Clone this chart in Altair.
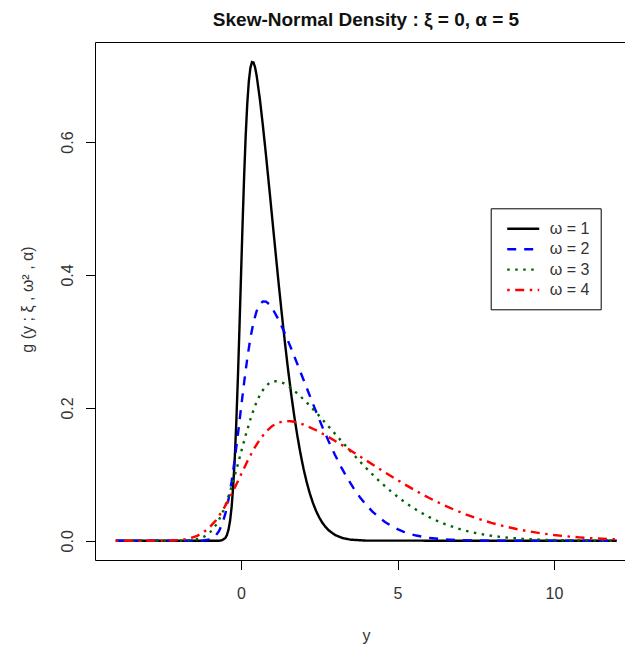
import altair as alt
import pandas as pd

# ---- data (skew-normal densities, xi = 0, alpha = 5) ----
labels = ["ω = 1", "ω = 2", "ω = 3", "ω = 4"]

x_w1 = [-4, -1, -0.8, -0.7, -0.6, -0.5, -0.45, -0.4, -0.35, -0.3, -0.25, -0.2, -0.15, -0.1, -0.05,
        0, 0.05, 0.1, 0.15, 0.2, 0.25, 0.3, 0.35, 0.4, 0.45, 0.5, 0.6, 0.7, 0.8, 0.9, 1.0,
        1.1, 1.2, 1.3, 1.4, 1.5, 1.6, 1.7, 1.8, 1.9, 2.0, 2.1, 2.2, 2.3, 2.4, 2.5, 2.6, 2.7,
        2.8, 3.0, 3.25, 3.5, 4.0, 12]
g_w1 = [0.0, 0.0, 0.00002, 0.00015, 0.0009, 0.00437, 0.00881, 0.01676, 0.03006, 0.05096, 0.08170,
        0.12408, 0.17880, 0.24495, 0.31978, 0.39894, 0.47710, 0.54895, 0.61016, 0.65800, 0.69164,
        0.71182, 0.72042, 0.71978, 0.71225, 0.69977, 0.66554, 0.62436, 0.57936, 0.53218, 0.48394,
        0.43570, 0.38838, 0.34274, 0.29946, 0.25904, 0.22184, 0.18810, 0.15790, 0.13124, 0.10798,
        0.08796, 0.07094, 0.05666, 0.04478, 0.03506, 0.02716, 0.02084, 0.01584, 0.00886, 0.00406,
        0.00175, 0.00027, 0.0]

x_w2 = [-4, -2, -1.6, -1.4, -1.2, -1.0, -0.9, -0.8, -0.7, -0.6, -0.5, -0.4, -0.3, -0.2, -0.1,
        0, 0.1, 0.2, 0.3, 0.4, 0.5, 0.6, 0.7, 0.8, 0.9, 1.0, 1.2, 1.4, 1.6, 1.8, 2.0,
        2.2, 2.4, 2.6, 2.8, 3.0, 3.2, 3.4, 3.6, 3.8, 4.0, 4.2, 4.4, 4.6, 4.8, 5.0, 5.2, 5.4,
        5.6, 6.0, 6.5, 7.0, 8.0, 12]
g_w2 = [0.0, 0.0, 0.00001, 0.00008, 0.00045, 0.00219, 0.00441, 0.00838, 0.01503, 0.02548, 0.04085,
        0.06204, 0.08940, 0.12248, 0.15989, 0.19947, 0.23855, 0.27448, 0.30508, 0.32900, 0.34582,
        0.35591, 0.36021, 0.35989, 0.35613, 0.34989, 0.33277, 0.31218, 0.28968, 0.26609, 0.24197,
        0.21785, 0.19419, 0.17137, 0.14973, 0.12952, 0.11092, 0.09405, 0.07895, 0.06562, 0.05399,
        0.04398, 0.03547, 0.02833, 0.02239, 0.01753, 0.01358, 0.01042, 0.00792, 0.00443, 0.00203,
        0.00088, 0.00014, 0.0]

x_w3 = [-4, -3, -2.4, -2.1, -1.8, -1.5, -1.35, -1.2, -1.05, -0.9, -0.75, -0.6, -0.45, -0.3, -0.15,
        0, 0.15, 0.3, 0.45, 0.6, 0.75, 0.9, 1.05, 1.2, 1.35, 1.5, 1.8, 2.1, 2.4, 2.7, 3.0,
        3.3, 3.6, 3.9, 4.2, 4.5, 4.8, 5.1, 5.4, 5.7, 6.0, 6.3, 6.6, 6.9, 7.2, 7.5, 7.8, 8.1,
        8.4, 9.0, 9.75, 10.5, 12.0]
g_w3 = [0.0, 0.0, 0.00001, 0.00005, 0.0003, 0.00146, 0.00294, 0.00559, 0.01002, 0.01699, 0.02723,
        0.04136, 0.05960, 0.08165, 0.10659, 0.13298, 0.15903, 0.18298, 0.20339, 0.21933, 0.23055,
        0.23727, 0.24014, 0.23993, 0.23742, 0.23326, 0.22185, 0.20812, 0.19312, 0.17739, 0.16131,
        0.14523, 0.12946, 0.11425, 0.09982, 0.08635, 0.07395, 0.06270, 0.05263, 0.04375, 0.03599,
        0.02932, 0.02365, 0.01889, 0.01493, 0.01169, 0.00905, 0.00695, 0.00528, 0.00295, 0.00135,
        0.00058, 0.00009]

x_w4 = [-4, -3.2, -2.8, -2.4, -2.0, -1.8, -1.6, -1.4, -1.2, -1.0, -0.8, -0.6, -0.4, -0.2,
        0, 0.2, 0.4, 0.6, 0.8, 1.0, 1.2, 1.4, 1.6, 1.8, 2.0, 2.4, 2.8, 3.2, 3.6, 4.0,
        4.4, 4.8, 5.2, 5.6, 6.0, 6.4, 6.8, 7.2, 7.6, 8.0, 8.4, 8.8, 9.2, 9.6, 10.0, 10.4,
        10.8, 11.2, 12.0]
g_w4 = [0.0, 0.000005, 0.00004, 0.00023, 0.00109, 0.00220, 0.00419, 0.00752, 0.01274, 0.02043,
        0.03102, 0.04470, 0.06124, 0.07995, 0.09974, 0.11928, 0.13724, 0.15254, 0.16450, 0.17291,
        0.17796, 0.18011, 0.17995, 0.17806, 0.17494, 0.16639, 0.15609, 0.14484, 0.13305, 0.12099,
        0.10893, 0.09710, 0.08569, 0.07487, 0.06476, 0.05546, 0.04703, 0.03948, 0.03281, 0.02700,
        0.02199, 0.01774, 0.01417, 0.01120, 0.00877, 0.00679, 0.00521, 0.00396, 0.00222]

x_ticks = [0, 5, 10]
y_ticks = [0.0, 0.2, 0.4, 0.6]

series = [(labels[0], x_w1, g_w1), (labels[1], x_w2, g_w2),
          (labels[2], x_w3, g_w3), (labels[3], x_w4, g_w4)]
rows = []
for i, (lab, xs, gs) in enumerate(series):
    assert len(xs) == len(gs), lab
    for xv, gv in zip(xs, gs):
        rows.append({"y": xv, "g": gv, "omega": lab, "k": i})
df = pd.DataFrame(rows)

FONT = "Liberation Sans"
TXT = "#333333"

chart = alt.Chart(df).mark_line(strokeWidth=2.4, clip=True, strokeCap="butt").encode(
    x=alt.X("y:Q", scale=alt.Scale(domain=[-4.665, 12.268], nice=False, zero=False),
            axis=alt.Axis(values=x_ticks, format="d", title="y", grid=False, domain=False,
                          tickSize=9.5, tickColor="black", labelPadding=28.5,
                          labelBaseline="alphabetic", labelFontSize=16, labelFont=FONT,
                          labelColor=TXT, labelFlush=False, labelOverlap=False,
                          titleFontSize=16, titleFont=FONT, titleColor=TXT,
                          titleFontWeight="normal", titleX=271, titleY=80,
                          titleBaseline="alphabetic", titleAlign="center")),
    y=alt.Y("g:Q", scale=alt.Scale(domain=[-0.02887, 0.75058], nice=False, zero=False),
            axis=alt.Axis(values=y_ticks, format=".1f", title="g (y ; ξ , ω² , α)",
                          grid=False, domain=False, tickSize=9.5, tickColor="black",
                          labelAngle=270, labelAlign="center", labelBaseline="alphabetic",
                          labelPadding=13.5, labelFontSize=16, labelFont=FONT,
                          labelColor=TXT, labelFlush=False, labelOverlap=False,
                          titleFontSize=16, titleFont=FONT, titleColor=TXT,
                          titleFontWeight="normal", titleAngle=270, titleX=-63, titleY=257,
                          titleBaseline="alphabetic", titleAlign="center")),
    color=alt.Color("omega:N", scale=alt.Scale(domain=labels,
                    range=["#000000", "#0000FF", "#006400", "#FF0000"]),
                    legend=alt.Legend(title=None, orient="none", legendX=395.7, legendY=166.3,
                                      symbolType="M-2,0H2", symbolSize=256,
                                      symbolStrokeWidth=2.4, labelFontSize=16, labelFont=FONT,
                                      labelColor=TXT, padding=11, symbolOffset=12,
                                      labelOffset=17, rowPadding=2.4, strokeColor="black",
                                      fillColor="white", cornerRadius=0)),
    strokeDash=alt.StrokeDash("omega:N", scale=alt.Scale(domain=labels,
                              range=[[1, 0], [9, 8], [2.5, 5.5], [2.5, 5.5, 9, 5.5]]),
                              legend=None),
    detail="k:N",
).properties(
    width=530, height=518,
    background="white",
    title=alt.TitleParams("Skew-Normal Density : ξ = 0, α = 5", font=FONT, fontSize=19,
                          fontWeight="bold", color="#111111", anchor="middle", frame="group",
                          dx=6, offset=-3, baseline="alphabetic"),
    autosize=alt.AutoSizeParams(type="none"),
    padding={"left": 95, "top": 42, "right": 0, "bottom": 85},
).configure_view(stroke="black", strokeWidth=1)

chart.save("out.html", embed_options={"renderer": "svg", "actions": False})
